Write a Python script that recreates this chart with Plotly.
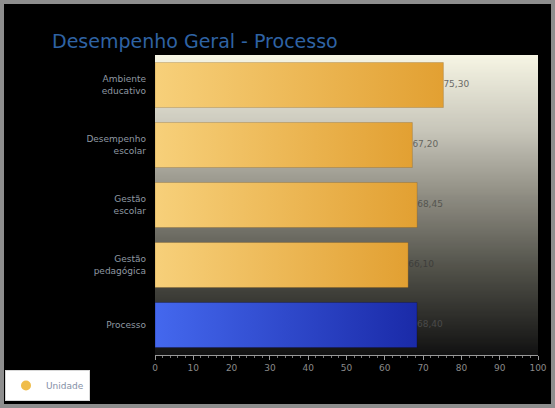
"""
Desempenho Geral - Processo
Horizontal bar chart, gradient bars on a cream-to-black plot background
"""

import base64
import struct
import zlib

import plotly.graph_objects as go

# ─── DATA ────────────────────────────────────────────────────────────────────
CATEGORIES = [
    'Ambiente<br>educativo',
    'Desempenho<br>escolar',
    'Gestão<br>escolar',
    'Gestão<br>pedagógica',
    'Processo',
]
VALUES = [75.30, 67.20, 68.45, 66.10, 68.40]
X_TICKS = [0, 10, 20, 30, 40, 50, 60, 70, 80, 90, 100]
SERIES_NAME = 'Unidade'

# ─── STYLE ───────────────────────────────────────────────────────────────────
FONT = 'DejaVu Sans, Verdana, sans-serif'
GOLD_SCALE = [[0, '#f7d07a'], [1, '#e2a032']]
BLUE_SCALE = [[0, '#4468ee'], [1, '#1a2aa8']]
LABEL_COLORS = ['#6a6a66', '#66665f', '#55554f', '#3e3e3b', '#4a4a4a']
BAR_HALF = 0.375

W, H = 555, 408
ML, MR, MT, MB = 155, 17, 55, 53
PW, PH = W - ML - MR, H - MT - MB


def _gradient_png(stops, height=256):
    """Tiny vertical gradient PNG as a data URI (no PIL needed)."""
    def lerp(a, b, t):
        return int(round(a + (b - a) * t))

    rows = b''
    for i in range(height):
        t = i / (height - 1)
        for k in range(len(stops) - 1):
            t0, c0 = stops[k]
            t1, c1 = stops[k + 1]
            if t0 <= t <= t1:
                f = (t - t0) / (t1 - t0) if t1 > t0 else 0
                rgb = [lerp(c0[j], c1[j], f) for j in range(3)]
                break
        rows += b'\x00' + bytes(rgb) * 2

    def chunk(tag, data):
        c = tag + data
        return struct.pack('>I', len(data)) + c + struct.pack('>I', zlib.crc32(c) & 0xffffffff)

    png = b'\x89PNG\r\n\x1a\n'
    png += chunk(b'IHDR', struct.pack('>IIBBBBB', 2, height, 8, 2, 0, 0, 0))
    png += chunk(b'IDAT', zlib.compress(rows))
    png += chunk(b'IEND', b'')
    return 'data:image/png;base64,' + base64.b64encode(png).decode()


def px_x(px):
    return (px - ML) / PW


def px_y(py):
    return (H - MB - py) / PH


bg_uri = _gradient_png([
    (0.0, (246, 245, 228)),
    (0.25, (200, 198, 186)),
    (0.48, (140, 138, 128)),
    (0.72, (80, 80, 72)),
    (1.0, (18, 18, 18)),
])

fig = go.Figure()

# Bars drawn as filled shapes so they can carry a horizontal gradient
for i, v in enumerate(VALUES):
    is_total = CATEGORIES[i] == 'Processo'
    fig.add_trace(go.Scatter(
        x=[0, v, v, 0, 0],
        y=[i - BAR_HALF, i - BAR_HALF, i + BAR_HALF, i + BAR_HALF, i - BAR_HALF],
        mode='lines',
        fill='toself',
        fillgradient=dict(type='horizontal',
                          colorscale=BLUE_SCALE if is_total else GOLD_SCALE),
        line=dict(width=0.6, color='rgba(10,10,60,0.5)' if is_total else 'rgba(90,60,10,0.35)'),
        showlegend=False,
        hoverinfo='skip',
    ))

# Value labels
fig.add_trace(go.Scatter(
    x=VALUES,
    y=list(range(len(VALUES))),
    mode='text',
    text=[f'{v:.2f}'.replace('.', ',') for v in VALUES],
    textposition='middle right',
    textfont=dict(family=FONT, size=9, color=LABEL_COLORS),
    showlegend=False,
    hoverinfo='skip',
))

# Legend entry
fig.add_trace(go.Scatter(
    x=[None], y=[None],
    mode='markers',
    marker=dict(symbol='circle', size=10, color='#f0bd4a'),
    name=SERIES_NAME,
    showlegend=True,
))

fig.update_layout(
    width=W,
    height=H,
    margin=dict(l=ML, r=MR, t=MT, b=MB, autoexpand=False),
    paper_bgcolor='#000000',
    plot_bgcolor='rgba(0,0,0,0)',
    font=dict(family=FONT),
    title=dict(
        text='Desempenho Geral - Processo',
        font=dict(family=FONT, size=19, color='#2f63a4'),
        xref='container', yref='container',
        x=52 / W, y=1 - 41 / H,
        xanchor='left', yanchor='middle',
    ),
    xaxis=dict(
        range=[0, 100],
        tickvals=X_TICKS,
        ticks='outside',
        ticklen=4,
        tickcolor='#9a9a9a',
        tickfont=dict(family=FONT, size=9, color='#8a8a8a'),
        showline=True,
        linecolor='#9a9a9a',
        linewidth=1,
        showgrid=False,
        zeroline=False,
        minor=dict(dtick=2, ticks='outside', ticklen=2, tickcolor='#777777'),
        automargin=False,
        fixedrange=True,
    ),
    yaxis=dict(
        range=[len(VALUES) - 0.5, -0.5],
        tickvals=list(range(len(CATEGORIES))),
        ticktext=CATEGORIES,
        tickfont=dict(family=FONT, size=9, color='#8f98a2'),
        ticks='',
        ticklabelstandoff=8,
        showgrid=False,
        zeroline=False,
        showline=False,
        automargin=False,
        fixedrange=True,
    ),
    images=[dict(
        source=bg_uri,
        xref='paper', yref='paper',
        x=0, y=1, sizex=1, sizey=1,
        xanchor='left', yanchor='top',
        sizing='stretch',
        layer='below',
    )],
    shapes=[dict(
        type='rect',
        xref='paper', yref='paper',
        x0=px_x(0), x1=px_x(W), y0=px_y(H), y1=px_y(0),
        line=dict(color='#8e8e8e', width=8),
        fillcolor='rgba(0,0,0,0)',
        layer='below',
    )],
    legend=dict(
        orientation='h',
        xref='container', yref='container',
        x=5 / W, y=1 - 370 / H,
        xanchor='left', yanchor='top',
        bgcolor='#ffffff',
        bordercolor='#d8d8d8',
        borderwidth=1,
        font=dict(family=FONT, size=9, color='#8590a6'),
        itemwidth=30,
    ),
    hovermode=False,
)

fig.write_html(
    'out.html',
    config={'displayModeBar': False, 'staticPlot': True},
    post_script=(
        "document.body.style.margin='0';"
        "document.body.style.overflow='hidden';"
        "document.documentElement.style.overflow='hidden';"
    ),
)
